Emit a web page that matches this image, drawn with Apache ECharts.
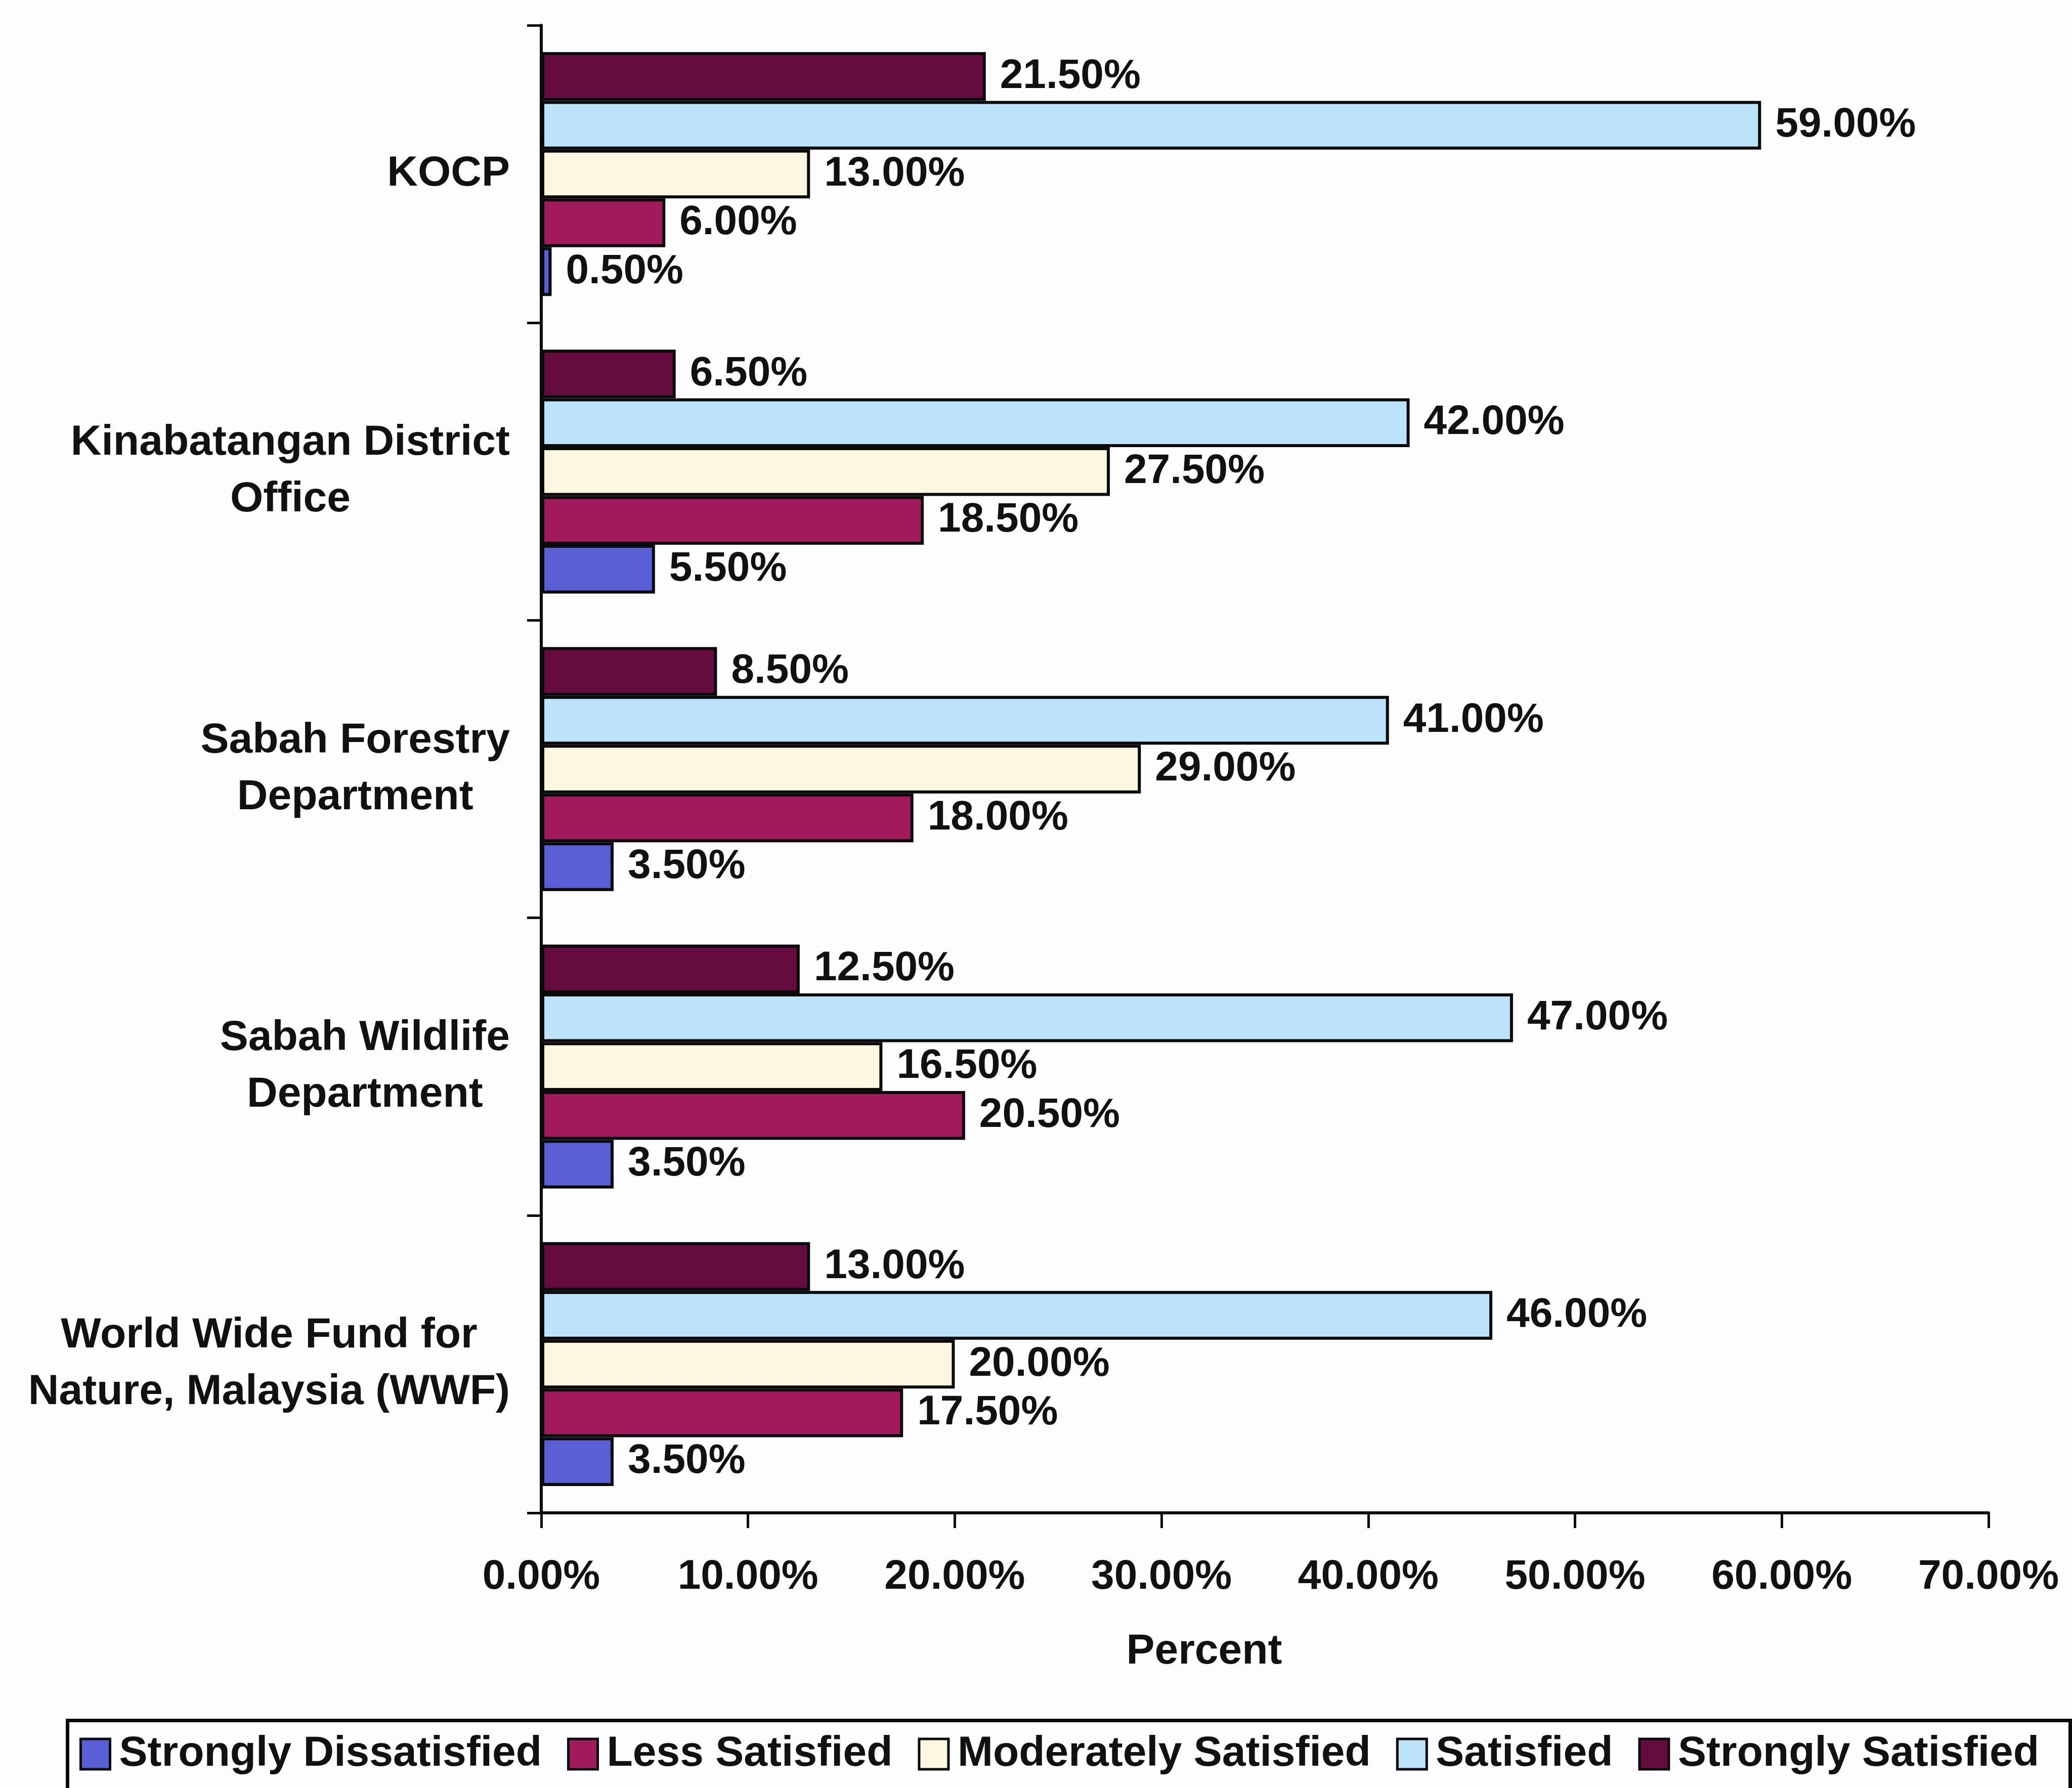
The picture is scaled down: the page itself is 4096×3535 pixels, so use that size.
<!DOCTYPE html>
<html>
<head>
<meta charset="utf-8">
<script src="https://cdn.jsdelivr.net/npm/echarts@6/dist/echarts.min.js"></script>
<style>
html,body{margin:0;padding:0;background:#fdfdff;}
#chart{width:4096px;height:3535px;}
</style>
</head>
<body>
<div id="chart"></div>
<script>
// ---- data ----
var categories = [
  'KOCP',
  'Kinabatangan District\nOffice',
  'Sabah Forestry\nDepartment',
  'Sabah Wildlife\nDepartment',
  'World Wide Fund for\nNature, Malaysia (WWF)'
];
var legendOrder = ['Strongly Dissatisfied', 'Less Satisfied', 'Moderately Satisfied', 'Satisfied', 'Strongly Satisfied'];
var stronglyDissatisfied = [0.5, 5.5, 3.5, 3.5, 3.5];
var lessSatisfied = [6.0, 18.5, 18.0, 20.5, 17.5];
var moderatelySatisfied = [13.0, 27.5, 29.0, 16.5, 20.0];
var satisfied = [59.0, 42.0, 41.0, 47.0, 46.0];
var stronglySatisfied = [21.5, 6.5, 8.5, 12.5, 13.0];
var xTicks = [0, 10, 20, 30, 40, 50, 60, 70];

// ---- chart ----
var FONT = "'Liberation Sans', Arial, sans-serif";
var colors = {
  'Strongly Dissatisfied': '#5a5fd6',
  'Less Satisfied': '#a01a5c',
  'Moderately Satisfied': '#faf7de',
  'Satisfied': '#bde3f8',
  'Strongly Satisfied': '#650c3f'
};
// top-to-bottom order inside each group
var seriesDefs = [
  ['Strongly Satisfied', stronglySatisfied],
  ['Satisfied', satisfied],
  ['Moderately Satisfied', moderatelySatisfied],
  ['Less Satisfied', lessSatisfied],
  ['Strongly Dissatisfied', stronglyDissatisfied]
];

var series = seriesDefs.map(function (d) {
  return {
    name: d[0],
    type: 'bar',
    data: d[1],
    barGap: '0%',
    barCategoryGap: '18%',
    itemStyle: { color: colors[d[0]], borderColor: '#0a0a0a', borderWidth: 6 },
    label: {
      show: true,
      position: 'right',
      distance: 28,
      color: '#111',
      fontFamily: FONT,
      fontWeight: 'bold',
      fontSize: 82,
      formatter: function (p) { return p.value.toFixed(2) + '%'; }
    },
    emphasis: { disabled: true },
    animation: false
  };
});

var chart = echarts.init(document.getElementById('chart'), null, { renderer: 'canvas' });
chart.setOption({
  backgroundColor: '#fdfdff',
  animation: false,
  grid: { left: 1070, top: 50, width: 2861, height: 2941, containLabel: false },
  xAxis: {
    type: 'value',
    min: xTicks[0],
    max: xTicks[xTicks.length - 1],
    interval: 10,
    name: 'Percent',
    nameLocation: 'middle',
    nameGap: 233,
    nameTextStyle: { color: '#111', fontFamily: FONT, fontWeight: 'bold', fontSize: 84, padding: [0, 240, 0, 0] },
    axisLine: { show: true, lineStyle: { color: '#0a0a0a', width: 6 } },
    axisTick: { show: true, length: 30, lineStyle: { color: '#0a0a0a', width: 5 } },
    splitLine: { show: false },
    axisLabel: {
      margin: 86,
      color: '#111',
      fontFamily: FONT,
      fontWeight: 'bold',
      fontSize: 82,
      formatter: function (v) { return v.toFixed(2) + '%'; }
    }
  },
  yAxis: {
    type: 'category',
    data: categories,
    inverse: true,
    axisLine: { show: true, lineStyle: { color: '#0a0a0a', width: 6 } },
    axisTick: { show: true, length: 28, alignWithLabel: false, lineStyle: { color: '#0a0a0a', width: 5 } },
    splitLine: { show: false },
    axisLabel: {
      margin: 62,
      color: '#111',
      fontFamily: FONT,
      fontWeight: 'bold',
      fontSize: 84,
      lineHeight: 112,
      formatter: function (v) {
        return v.split('\n').map(function (s) { return '{c|' + s + '}'; }).join('\n');
      },
      rich: {
        c: { align: 'center', color: '#111', fontFamily: FONT, fontWeight: 'bold', fontSize: 84, lineHeight: 112 }
      }
    }
  },
  legend: {
    data: legendOrder,
    orient: 'horizontal',
    icon: 'rect',
    left: 157,
    top: 3426,
    padding: 0,
    itemGap: 50,
    itemWidth: 58,
    itemHeight: 60,
    itemStyle: { borderColor: '#0a0a0a', borderWidth: 5 },
    textStyle: { color: '#111', fontFamily: FONT, fontWeight: 'bold', fontSize: 84, lineHeight: 84, padding: [0, 0, 0, 13] },
    selectedMode: false
  },
  graphic: [
    {
      type: 'rect',
      left: 130,
      top: 3398,
      shape: { width: 3959, height: 400 },
      style: { fill: 'none', stroke: '#0a0a0a', lineWidth: 7 },
      silent: true,
      z: -1
    }
  ],
  series: series
});
</script>
</body>
</html>
